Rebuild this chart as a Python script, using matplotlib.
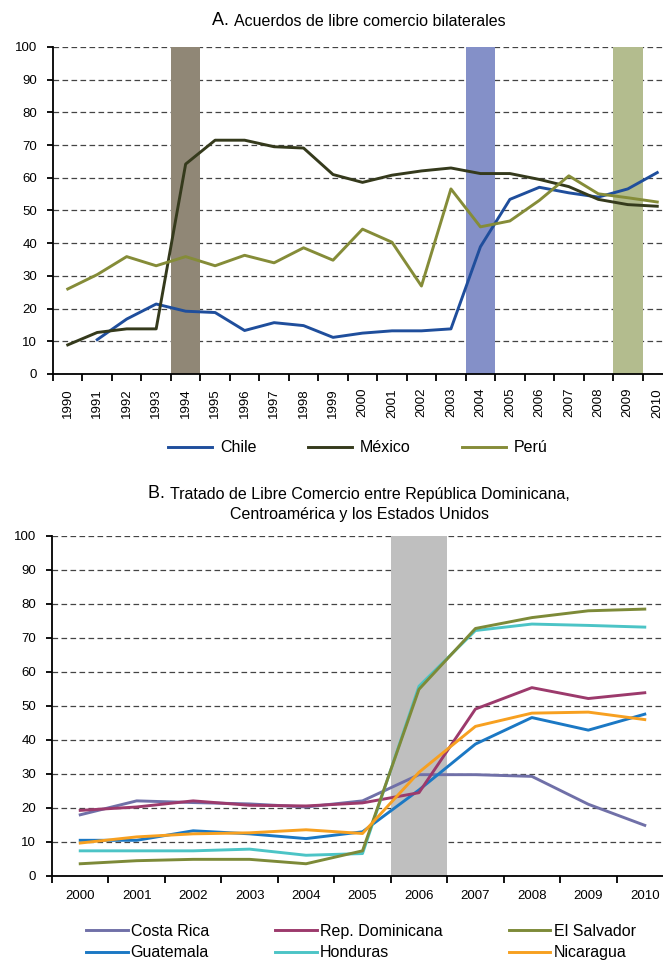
import numpy as np
import matplotlib.pyplot as plt

plt.rcParams['font.family'] = ['Liberation Sans', 'DejaVu Sans']

# Panel A: bilateral agreements
years_a = [str(y) for y in range(1990, 2011)]
chile = [np.nan, 10.5, 16.8, 21.4, 19.2, 18.8, 13.3, 15.7, 14.8, 11.2, 12.5,
         13.2, 13.2, 13.8, 38.9, 53.4, 57.1, 55.4, 54.1, 56.6, 61.6]
mexico = [8.9, 12.7, 13.8, 13.8, 64.2, 71.5, 71.5, 69.5, 69.1, 61.0, 58.6,
          60.8, 62.1, 63.0, 61.3, 61.3, 59.5, 57.3, 53.4, 51.8, 51.3]
peru = [26.0, 30.4, 35.9, 33.1, 35.9, 33.1, 36.3, 34.0, 38.6, 34.8, 44.3,
        40.3, 26.9, 56.6, 45.0, 46.8, 53.1, 60.6, 55.1, 53.9, 52.6]
bands_a = ['1994', '2004', '2009']
band_colors_a = ['#908776', '#8490c8', '#b3bc8e']

# Panel B: DR-CAFTA
years_b = [str(y) for y in range(2000, 2011)]
costa_rica = [18.0, 22.1, 21.6, 21.2, 20.3, 22.1, 29.8, 29.8, 29.3, 21.1, 14.9]
rep_dom = [19.3, 20.3, 22.1, 20.8, 20.6, 21.5, 24.5, 49.1, 55.4, 52.2, 53.9]
el_salvador = [3.6, 4.5, 4.9, 4.9, 3.6, 7.4, 54.9, 72.8, 76.0, 78.0, 78.5]
guatemala = [10.5, 10.5, 13.3, 12.4, 11.0, 13.0, 25.3, 38.8, 46.6, 42.9, 47.6]
honduras = [7.4, 7.4, 7.4, 7.9, 6.1, 6.6, 55.8, 72.2, 74.1, 73.7, 73.2]
nicaragua = [9.7, 11.5, 12.4, 12.7, 13.6, 12.5, 30.5, 44.0, 47.9, 48.2, 46.0]
bands_b = ['2006']
band_colors_b = ['#bfbfbf']

W, H = 663, 964
fig = plt.figure(figsize=(W / 100, H / 100), dpi=100)


def style_axes(ax, years, rot, xsize):
    n = len(years)
    ax.set_xlim(-0.5, n - 0.5)
    ax.set_ylim(0, 100)
    ax.set_yticks(range(0, 101, 10))
    ax.set_xticks(np.arange(n))
    ax.set_xticklabels(years, rotation=rot)
    ax.set_xticks(np.arange(-0.5, n), minor=True)
    ax.tick_params(axis='x', which='major', length=0, labelsize=xsize, pad=10)
    ax.tick_params(axis='x', which='minor', length=5, width=1.3)
    ax.tick_params(axis='y', length=4.5, width=1.3, labelsize=9.5, pad=7)
    for s in ['top', 'right']:
        ax.spines[s].set_visible(False)
    for s in ['left', 'bottom']:
        ax.spines[s].set_linewidth(1.3)
    ax.set_axisbelow(True)
    ax.yaxis.grid(True, color='#444444', lw=0.9, linestyle=(0, (4.5, 2.7)))


def title_with_letter(ax, letter, text, x, y):
    t = fig.text(x / W, 1 - y / H, text, ha='center', va='baseline',
                 fontsize=11.5)
    ax.annotate(letter + ' ', xy=(0, 0), xycoords=t, ha='right',
                va='bottom', fontsize=13)
    return t


ax1 = fig.add_axes([53 / W, 1 - 374 / H, (672 - 53) / W, (374 - 47) / H])
x = np.arange(len(years_a))
for b, c in zip(bands_a, band_colors_a):
    i = years_a.index(b)
    ax1.axvspan(i - 0.5, i + 0.5, color=c, lw=0, zorder=1)
ax1.plot(x, chile, color='#1f4e9c', lw=2.1, label='Chile', zorder=3)
ax1.plot(x, mexico, color='#353a1c', lw=2.1, label='México', zorder=3)
ax1.plot(x, peru, color='#858c38', lw=2.1, label='Perú', zorder=3)
style_axes(ax1, years_a, 90, 9.5)
ax1.legend(loc='center', bbox_to_anchor=(358 / W, 1 - 448 / H),
           bbox_transform=fig.transFigure, ncol=3, frameon=False,
           fontsize=11.5, handlelength=2.75, handletextpad=0.5,
           columnspacing=3.2)

title_with_letter(ax1, 'A.', 'Acuerdos de libre comercio bilaterales', 370, 26)

ax2 = fig.add_axes([52 / W, 1 - 876 / H, (673 - 52) / W, (876 - 536) / H])
x = np.arange(len(years_b))
for b, c in zip(bands_b, band_colors_b):
    i = years_b.index(b)
    ax2.axvspan(i - 0.5, i + 0.5, color=c, lw=0, zorder=1)
series_b = [
    ('Costa Rica', costa_rica, '#7070a8'),
    ('Guatemala', guatemala, '#1b78c4'),
    ('Rep. Dominicana', rep_dom, '#9c3a6c'),
    ('Honduras', honduras, '#4cc4c6'),
    ('El Salvador', el_salvador, '#7d8a38'),
    ('Nicaragua', nicaragua, '#f7a020'),
]
for name, vals, c in series_b:
    ax2.plot(x, vals, color=c, lw=2.1, label=name, zorder=3)
style_axes(ax2, years_b, 0, 9.5)
ax2.legend(loc='upper left', bbox_to_anchor=(86 / W, 1 - 924 / H),
           bbox_transform=fig.transFigure, ncol=3, frameon=False,
           fontsize=11.5, handlelength=2.6, handletextpad=0.2,
           columnspacing=4.15, labelspacing=0.4, borderpad=0,
           borderaxespad=0)

title_with_letter(ax2, 'B.',
                  'Tratado de Libre Comercio entre República Dominicana,',
                  370, 499)
fig.text(360 / W, 1 - 519 / H, 'Centroamérica y los Estados Unidos',
         ha='center', va='baseline', fontsize=11.5)

fig.savefig('out.png', dpi=100)
